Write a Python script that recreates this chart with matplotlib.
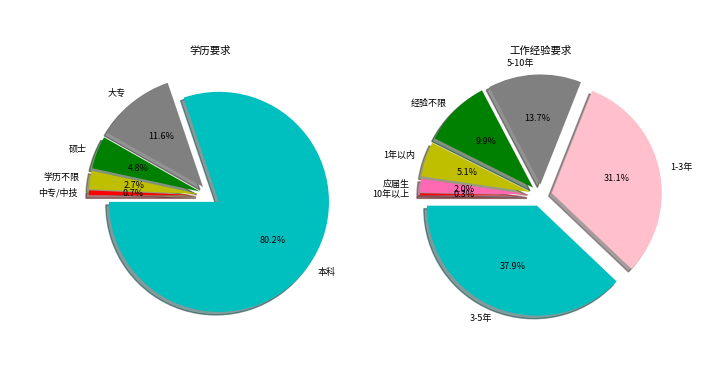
import matplotlib
matplotlib.use("Agg")
import matplotlib.pyplot as plt

plt.rcParams['font.family'] = ['Noto Sans CJK SC', 'DejaVu Sans']
plt.rcParams['axes.unicode_minus'] = False

edu_labels = ['本科', '大专', '硕士', '学历不限', '中专/中技']
edu_values = [80.2, 11.6, 4.8, 2.7, 0.7]
edu_colors = ['c', 'gray', 'green', 'y', 'red']

exp_labels = ['3-5年', '1-3年', '5-10年', '经验不限', '1年以内', '应届生', '10年以上']
exp_values = [37.9, 31.1, 13.7, 9.9, 5.1, 2.0, 0.3]
exp_colors = ['c', 'pink', 'gray', 'green', 'y', 'hotpink', 'red']

fig = plt.figure(figsize=(7.2, 3.81), dpi=100)
ax1 = fig.add_axes([0.1007, 0.126, 0.382, 0.722])
ax2 = fig.add_axes([0.5604, 0.126, 0.382, 0.722])

fs = 6.5
for ax, labels, vals, cols, title in [
    (ax1, edu_labels, edu_values, edu_colors, '学历要求'),
    (ax2, exp_labels, exp_values, exp_colors, '工作经验要求'),
]:
    ax.pie(vals, labels=labels, colors=cols, explode=[0.1] * len(vals),
           autopct='%1.1f%%', startangle=180, shadow=True,
           textprops={'fontsize': fs})
    ax.set_title(title, fontsize=7.5, pad=3)

fig.savefig('out.png', dpi=100)
